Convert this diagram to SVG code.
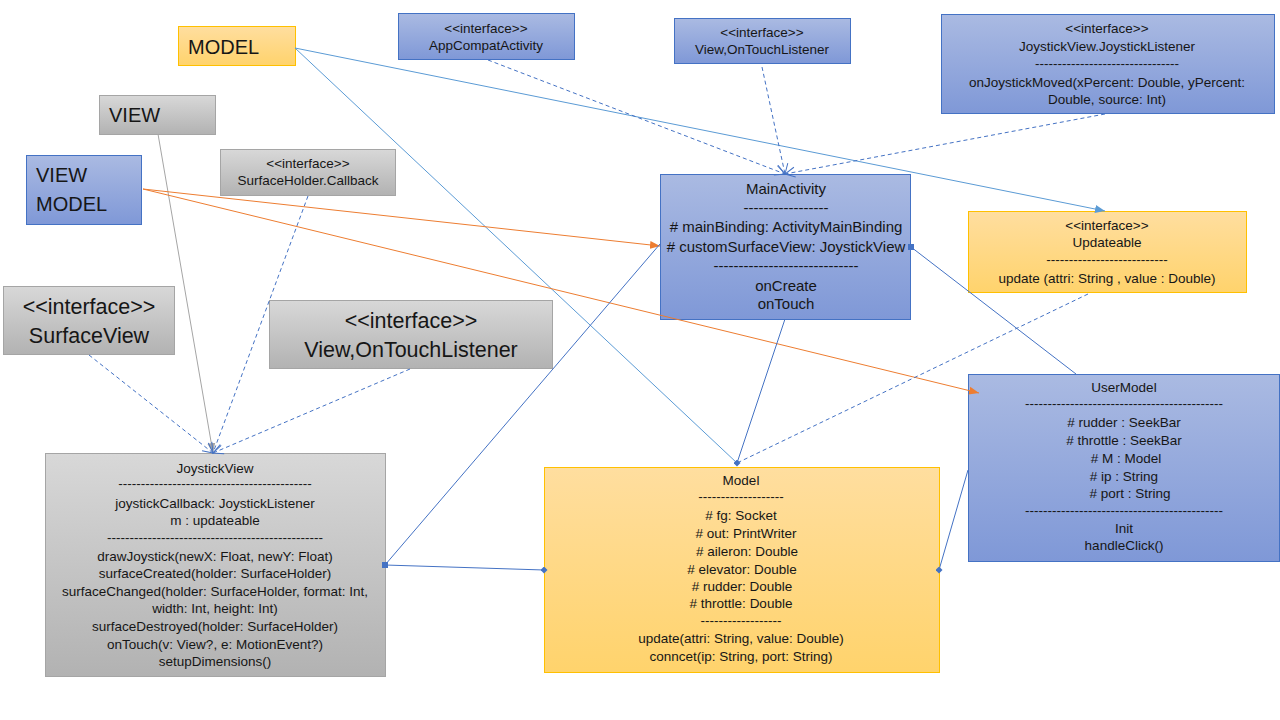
<svg xmlns="http://www.w3.org/2000/svg" width="1280" height="720" viewBox="0 0 1280 720">
<defs>
<linearGradient id="gBlue" x1="0" y1="0" x2="0" y2="1"><stop offset="0" stop-color="#AABAE2"/><stop offset="1" stop-color="#7F98D7"/></linearGradient>
<linearGradient id="gOrange" x1="0" y1="0" x2="0" y2="1"><stop offset="0" stop-color="#FFDE9F"/><stop offset="1" stop-color="#FFD36C"/></linearGradient>
<linearGradient id="gGrey" x1="0" y1="0" x2="0" y2="1"><stop offset="0" stop-color="#D8D8D8"/><stop offset="1" stop-color="#B2B2B2"/></linearGradient>
<marker id="arrLB" viewBox="0 0 10 10" refX="10" refY="5" markerWidth="10" markerHeight="10" markerUnits="userSpaceOnUse" orient="auto"><path d="M0,1 L10,5 L0,9 z" fill="#5B9BD5"/></marker>
<marker id="arrOr" viewBox="0 0 10 10" refX="10" refY="5" markerWidth="10" markerHeight="10" markerUnits="userSpaceOnUse" orient="auto"><path d="M0,1 L10,5 L0,9 z" fill="#ED7D31"/></marker>
<marker id="arrGr" viewBox="0 0 10 10" refX="10" refY="5" markerWidth="10" markerHeight="10" markerUnits="userSpaceOnUse" orient="auto"><path d="M0,1 L10,5 L0,9 z" fill="#A5A5A5"/></marker>
<marker id="open" viewBox="0 0 12 12" refX="11" refY="6" markerWidth="12" markerHeight="12" markerUnits="userSpaceOnUse" orient="auto"><path d="M1,1 L11,6 L1,11" fill="none" stroke="#4472C4" stroke-width="1"/></marker>
<marker id="dia" viewBox="0 0 8 8" refX="4" refY="4" markerWidth="7" markerHeight="7" markerUnits="userSpaceOnUse" orient="0"><path d="M0,4 L4,0 L8,4 L4,8 z" fill="#4472C4"/></marker>
<marker id="sq" viewBox="0 0 6 6" refX="3" refY="3" markerWidth="6" markerHeight="6" markerUnits="userSpaceOnUse" orient="0"><rect x="0" y="0" width="6" height="6" fill="#4472C4"/></marker>
</defs>
<style>
.blue{fill:url(#gBlue);stroke:#4472C4;stroke-width:1}
.orange{fill:url(#gOrange);stroke:#FFC000;stroke-width:1}
.grey{fill:url(#gGrey);stroke:#A5A5A5;stroke-width:1}
text{font-family:"Liberation Sans",Arial,sans-serif;fill:#161616}
.s{font-size:13.5px;text-anchor:middle}
.m{font-size:15px;text-anchor:middle}
.l{font-size:21.5px;text-anchor:middle}
.h{font-size:20px}
.c{fill:none;stroke-width:1}
.lb{stroke:#5B9BD5}
.db{stroke:#4472C4}
.dash{stroke:#4472C4;stroke-dasharray:4 3}
.or{stroke:#ED7D31}
.gr{stroke:#A5A5A5}
</style>
<rect width="1280" height="720" fill="#FFFFFF"/>

<g id="MODEL">
<rect class="orange" x="178.5" y="26.5" width="117" height="39"/>
<text class="h" x="188" y="54">MODEL</text>
</g>
<g id="VIEW">
<rect class="grey" x="99.5" y="95.5" width="116" height="39"/>
<text class="h" x="109" y="122">VIEW</text>
</g>
<g id="VIEWMODEL">
<rect class="blue" x="26.5" y="155.5" width="115" height="69"/>
<text class="h" x="36" y="182">VIEW</text>
<text class="h" x="36" y="211">MODEL</text>
</g>
<g id="SurfaceHolderCallback">
<rect class="grey" x="220.5" y="149.5" width="175" height="46"/>
<text class="s" x="308" y="168">&lt;&lt;interface&gt;&gt;</text>
<text class="s" x="308" y="185">SurfaceHolder.Callback</text>
</g>
<g id="AppCompatActivity">
<rect class="blue" x="398.5" y="13.5" width="176" height="46"/>
<text class="s" x="486" y="33">&lt;&lt;interface&gt;&gt;</text>
<text class="s" x="486" y="50">AppCompatActivity</text>
</g>
<g id="ViewOnTouchListenerTop">
<rect class="blue" x="674.5" y="18.5" width="176" height="45"/>
<text class="s" x="762" y="37">&lt;&lt;interface&gt;&gt;</text>
<text class="s" x="762" y="54">View,OnTouchListener</text>
</g>
<g id="JoystickListener">
<rect class="blue" x="941.5" y="14.5" width="333" height="99"/>
<text class="s" x="1107" y="33">&lt;&lt;interface&gt;&gt;</text>
<text class="s" x="1107" y="51">JoystickView.JoystickListener</text>
<text class="s" x="1107" y="68">--------------------------------</text>
<text class="s" x="1107" y="87">onJoystickMoved(xPercent: Double, yPercent:</text>
<text class="s" x="1107" y="104">Double, source: Int)</text>
</g>
<g id="MainActivity">
<rect class="blue" x="660.5" y="174.5" width="250" height="145"/>
<text class="m" x="786" y="194">MainActivity</text>
<text class="m" x="786" y="213">-----------------</text>
<text class="m" x="786" y="232"># mainBinding: ActivityMainBinding</text>
<text class="m" x="786" y="252"># customSurfaceView: JoystickView</text>
<text class="m" x="786" y="271">-----------------------------</text>
<text class="m" x="786" y="291">onCreate</text>
<text class="m" x="786" y="309">onTouch</text>
</g>
<g id="Updateable">
<rect class="orange" x="968.5" y="211.5" width="278" height="81"/>
<text class="s" x="1107" y="230">&lt;&lt;interface&gt;&gt;</text>
<text class="s" x="1107" y="247">Updateable</text>
<text class="s" x="1107" y="264">---------------------------</text>
<text class="s" x="1107" y="283">update (attri: String , value : Double)</text>
</g>
<g id="SurfaceView">
<rect class="grey" x="3.5" y="286.5" width="171" height="68"/>
<text class="l" x="89" y="313.5">&lt;&lt;interface&gt;&gt;</text>
<text class="l" x="89" y="342.5">SurfaceView</text>
</g>
<g id="ViewOnTouchListenerMid">
<rect class="grey" x="269.5" y="300.5" width="283" height="68"/>
<text class="l" x="411" y="327.5">&lt;&lt;interface&gt;&gt;</text>
<text class="l" x="411" y="356.5">View,OnTouchListener</text>
</g>
<g id="JoystickView">
<rect class="grey" x="45.5" y="453.5" width="340" height="223"/>
<text class="s" x="215" y="473">JoystickView</text>
<text class="s" x="215" y="488">-------------------------------------------</text>
<text class="s" x="215" y="508">joystickCallback: JoystickListener</text>
<text class="s" x="215" y="525">m : updateable</text>
<text class="s" x="215" y="542">------------------------------------------------</text>
<text class="s" x="215" y="561">drawJoystick(newX: Float, newY: Float)</text>
<text class="s" x="215" y="578">surfaceCreated(holder: SurfaceHolder)</text>
<text class="s" x="215" y="596">surfaceChanged(holder: SurfaceHolder, format: Int,</text>
<text class="s" x="215" y="613">width: Int, height: Int)</text>
<text class="s" x="215" y="631">surfaceDestroyed(holder: SurfaceHolder)</text>
<text class="s" x="215" y="649">onTouch(v: View?, e: MotionEvent?)</text>
<text class="s" x="215" y="666">setupDimensions()</text>
</g>
<g id="Model">
<rect class="orange" x="544.5" y="467.5" width="395" height="205"/>
<text class="s" x="741" y="485">Model</text>
<text class="s" x="741" y="501">-------------------</text>
<text class="s" x="741" y="520"># fg: Socket</text>
<text class="s" x="746" y="538"># out: PrintWriter</text>
<text class="s" x="747" y="556"># aileron: Double</text>
<text class="s" x="742" y="574"># elevator: Double</text>
<text class="s" x="742" y="591"># rudder: Double</text>
<text class="s" x="741" y="608"># throttle: Double</text>
<text class="s" x="741" y="625">------------------</text>
<text class="s" x="741" y="643">update(attri: String, value: Double)</text>
<text class="s" x="741" y="661">conncet(ip: String, port: String)</text>
</g>
<g id="UserModel">
<rect class="blue" x="968.5" y="374.5" width="311" height="187"/>
<text class="s" x="1124" y="392">UserModel</text>
<text class="s" x="1124" y="408">--------------------------------------------</text>
<text class="s" x="1124" y="427"># rudder : SeekBar</text>
<text class="s" x="1124" y="445"># throttle : SeekBar</text>
<text class="s" x="1126" y="463"># M : Model</text>
<text class="s" x="1124" y="481"># ip : String</text>
<text class="s" x="1130" y="498"># port : String</text>
<text class="s" x="1124" y="515">--------------------------------------------</text>
<text class="s" x="1124" y="533">Init</text>
<text class="s" x="1124" y="550">handleClick()</text>
</g>

<g id="connectors">
<line class="c lb" x1="295" y1="48" x2="1105" y2="211" marker-end="url(#arrLB)"/>
<line class="c lb" x1="295" y1="48" x2="737" y2="463" marker-end="url(#dia)"/>
<line class="c dash" x1="488" y1="60" x2="785" y2="174" marker-end="url(#open)"/>
<line class="c dash" x1="762" y1="67" x2="785" y2="174" marker-end="url(#open)"/>
<line class="c dash" x1="1105" y1="114" x2="785" y2="174" marker-end="url(#open)"/>
<line class="c gr" x1="158" y1="134" x2="213" y2="453" marker-end="url(#arrGr)"/>
<line class="c dash" x1="308" y1="196" x2="213" y2="453" marker-end="url(#open)"/>
<line class="c dash" x1="89" y1="355" x2="213" y2="453" marker-end="url(#open)"/>
<line class="c dash" x1="410" y1="369" x2="213" y2="453" marker-end="url(#open)"/>
<line class="c or" x1="143" y1="189" x2="660" y2="246" marker-end="url(#arrOr)"/>
<line class="c or" x1="143" y1="189" x2="979" y2="393" marker-end="url(#arrOr)"/>
<line class="c db" x1="385" y1="565" x2="660" y2="244" marker-start="url(#sq)"/>
<line class="c db" x1="385" y1="565" x2="544" y2="570" marker-end="url(#dia)"/>
<line class="c db" x1="939" y1="570" x2="968" y2="470" marker-start="url(#dia)"/>
<line class="c db" x1="911" y1="247" x2="1076" y2="374" marker-start="url(#sq)"/>
<line class="c db" x1="785" y1="319" x2="737" y2="463"/>
<line class="c dash" x1="1088" y1="294" x2="737" y2="463"/>
</g>
</svg>
